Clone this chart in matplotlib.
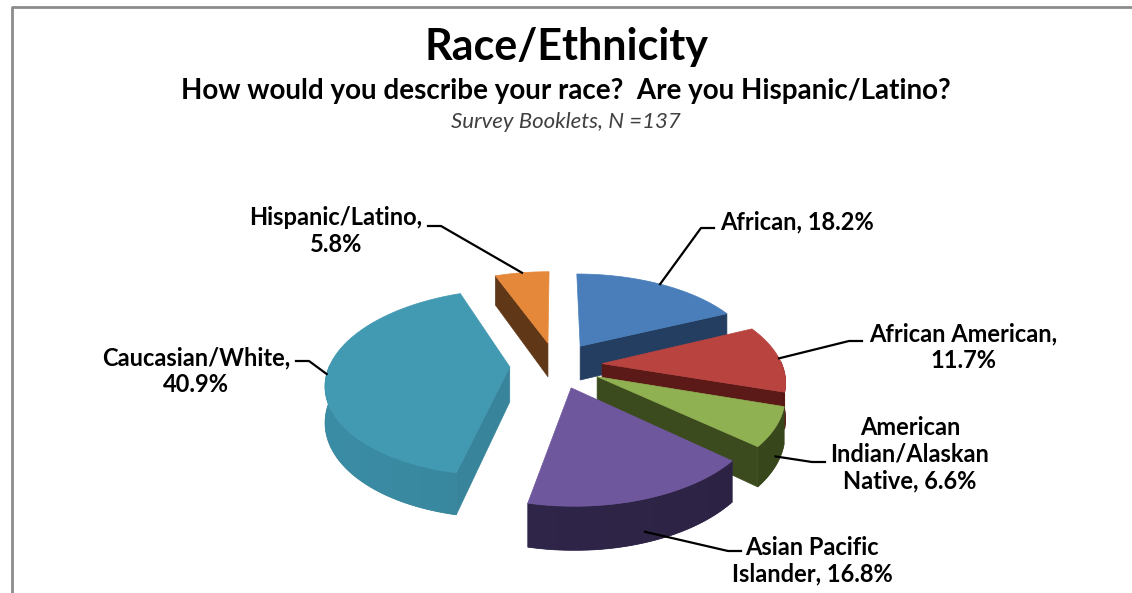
import numpy as np
import matplotlib.pyplot as plt
from matplotlib.patches import Polygon
from matplotlib.colors import to_rgb

categories = ['African', 'African American', 'American Indian/Alaskan Native',
              'Asian Pacific Islander', 'Caucasian/White', 'Hispanic/Latino']
percents = [18.2, 11.7, 6.6, 16.8, 40.9, 5.8]
# line breaks of each data label, {} gets the percentage
label_formats = ['African, {}', 'African American,\n{}', 'American\nIndian/Alaskan\nNative, {}',
                 'Asian Pacific\nIslander, {}', 'Caucasian/White,\n{}', 'Hispanic/Latino,\n{}']

top_colors = ['#4a7ebb', '#b8433f', '#8fb152', '#6f579e', '#4299b2', '#e6883a']
side_colors = ['#243e61', '#5b1917', '#3b4b1d', '#2f2548', '#37849b', '#603818']

# label centre, start of the leader tick, tick direction, leader depth on the slice
label_xy = [(797, 222), (963, 347), (910, 454), (812, 561), (196, 371), (336, 231)]
tick_xy = [(714, 228), (862, 341), (825, 462), (741, 551), (296, 361), (428, 226)]
tick_dir = [-1, -1, -1, -1, 1, 1]
leader_z = [0.0, 0.0, 0.75, 0.75, 0.0, 0.0]

# pie geometry in pixels
CX, CY = 556, 365
R, T, D, H = 180, 0.5, 6.0, 35
EXPL = 0.257


def project(X, Y, z=0.0):
    p = D / (D + Y)
    return CX + R * X * p, CY - R * T * Y * p + H * z * p


def shade(c, f):
    return tuple(min(1, v * f) for v in to_rgb(c))


fig = plt.figure(figsize=(11.32, 5.93), dpi=100)
ax = fig.add_axes([0, 0, 1, 1])

# chart frame
ax.plot([12, 12, 1132], [593, 7, 7], color='#8c8c8c', lw=2, solid_capstyle='butt')

edges = 90 - 3.6 * np.concatenate([[0], np.cumsum(percents)])
slices = []
for i in range(len(percents)):
    hi, lo = np.radians(edges[i]), np.radians(edges[i + 1])
    mid = (hi + lo) / 2
    slices.append((i, lo, hi, mid, EXPL * np.cos(mid), EXPL * np.sin(mid)))

z = 10
# back slices first
for i, lo, hi, mid, ox, oy in sorted(slices, key=lambda s: -np.sin(s[3])):
    th = np.linspace(lo, hi, max(int(np.degrees(hi - lo)), 2) * 2)
    apex_t = project(ox, oy)
    apex_b = project(ox, oy, 1)

    # radial side walls
    for edge, seen in [(hi, np.cos(hi) < 0), (lo, np.cos(lo) > 0)]:
        if not seen:
            continue
        ex, ey = ox + np.cos(edge), oy + np.sin(edge)
        wall = [apex_t, project(ex, ey), project(ex, ey, 1), apex_b]
        ax.add_patch(Polygon(wall, closed=True, fc=side_colors[i], ec=side_colors[i],
                             lw=0.5, zorder=z))
        z += 1

    # outer rim, only the part turned to the front
    front = th[np.sin(th) < 0.02]
    if len(front) > 1:
        upper = [project(ox + np.cos(t), oy + np.sin(t)) for t in front]
        lower = [project(ox + np.cos(t), oy + np.sin(t), 1) for t in front[::-1]]
        rim = Polygon(upper + lower, closed=True, fc=side_colors[i], ec=side_colors[i],
                      lw=0.5, zorder=z)
        ax.add_patch(rim)
        xs = np.array([p[0] for p in upper + lower])
        ys = np.array([p[1] for p in upper + lower])
        cols = np.linspace(xs.min(), xs.max(), 100)
        grad = np.array([[shade(side_colors[i], 1 + 0.05 * (CX - c) / R) for c in cols]])
        img = ax.imshow(grad, extent=(xs.min(), xs.max(), ys.max(), ys.min()),
                        aspect='auto', interpolation='bilinear', zorder=z + 0.5)
        img.set_clip_path(rim)
        z += 1

    # top face
    top = [apex_t] + [project(ox + np.cos(t), oy + np.sin(t)) for t in th]
    ax.add_patch(Polygon(top, closed=True, fc=top_colors[i], ec=top_colors[i],
                         lw=0.5, zorder=z))
    z += 1

ax.set_xlim(0, 1132)
ax.set_ylim(593, 0)
ax.axis('off')

# data labels with leader lines
for i, lo, hi, mid, ox, oy in slices:
    text = label_formats[i].format(f'{percents[i]:.1f}%')
    ax.text(*label_xy[i], text, ha='center', va='center', fontsize=17, fontweight='bold',
            family='Lato', color='black', linespacing=1.2, zorder=100)
    tx, ty = tick_xy[i]
    end = project(ox + np.cos(mid), oy + np.sin(mid), leader_z[i])
    ax.plot([tx, tx + 13 * tick_dir[i], end[0]], [ty, ty, end[1]],
            color='black', lw=1.6, zorder=100)

fig.text(0.5, 1 - 47 / 593, 'Race/Ethnicity', ha='center', va='center', fontsize=31,
         fontweight='bold', family='Lato')
fig.text(0.5, 1 - 91 / 593, 'How would you describe your race?  Are you Hispanic/Latino?',
         ha='center', va='center', fontsize=20, fontweight='bold', family='Lato')
fig.text(0.5, 1 - 122 / 593, 'Survey Booklets, N =137', ha='center', va='center',
         fontsize=16, style='italic', family='Lato', color='#404040')

fig.savefig('out.png', dpi=100)
